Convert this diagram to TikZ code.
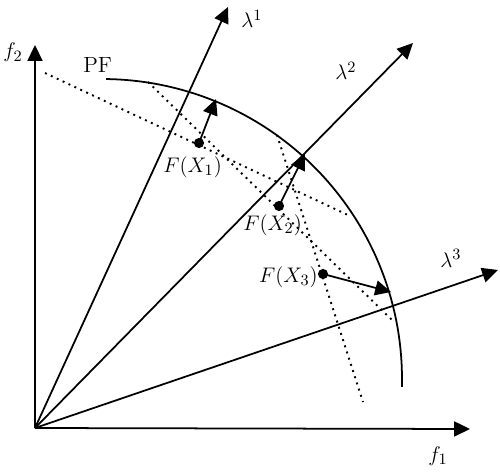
\documentclass[tikz,border=0pt]{standalone}
\usetikzlibrary{arrows.meta}
\begin{document}
\begin{tikzpicture}[x=0.02cm,y=-0.02cm,
  solidln/.style={line width=1pt},
  arr/.style={line width=1pt,-{Triangle[length=9pt,width=8.5pt]}},
  dotln/.style={line width=1.1pt,dash pattern=on 1.1pt off 2.6pt},
  pt/.style={circle,fill=black,inner sep=0pt,minimum size=5.8pt},
  lab/.style={inner sep=0pt,font=\fontsize{12.5}{15}\selectfont}]
\useasboundingbox (0,0) rectangle (500,473);
% coordinates
\coordinate (O) at (35,428);
\coordinate (F1tip) at (470,429);
\coordinate (F2tip) at (35,45);
\coordinate (L1tip) at (228,7);
\coordinate (L2tip) at (413,43);
\coordinate (L3tip) at (498,270);
% Pareto front
\draw[solidln] plot[domain=-89.2:1.5,samples=80] ({102+300*cos(\x)},{379+300*sin(\x)});
% dotted contour lines
\coordinate (a1) at (45,73);   \coordinate (a2) at (350,216);
\coordinate (b1) at (148,82);  \coordinate (b2) at (392,320);
\coordinate (c1) at (277,135); \coordinate (c2) at (363,402);
\draw[dotln] (a1) -- (a2);
\draw[dotln] (b1) -- (b2);
\draw[dotln] (c1) -- (c2);
% axes and weight vectors
\draw[arr] (O) -- (F1tip);
\draw[arr] (O) -- (F2tip);
\draw[arr] (O) -- (L1tip);
\draw[arr] (O) -- (L2tip);
\draw[arr] (O) -- (L3tip);
% points
\node[pt] (X1) at (199,143) {};
\node[pt] (X2) at (279,206) {};
\node[pt] (X3) at (323,274) {};
\coordinate (T1) at (216,99);
\coordinate (T2) at (305,154);
\coordinate (T3) at (391,292);
\draw[arr] (X1.center) -- (T1);
\draw[arr] (X2.center) -- (T2);
\draw[arr] (X3.center) -- (T3);
% labels
\node[lab,anchor=base west] (lf2) at (3,58) {$f_2$};
\node[lab,anchor=base west] (lf1) at (428,461) {$f_1$};
\node[lab,anchor=base west] (lpf) at (83,72) {PF};
\node[lab,anchor=base west] (ll1) at (241,28) {$\lambda^1$};
\node[lab,anchor=base west] (ll2) at (335,80) {$\lambda^2$};
\node[lab,anchor=base west] (ll3) at (440,267) {$\lambda^3$};
\node[lab,anchor=base west] (lx1) at (163,172) {$F(X_1)$};
\node[lab,anchor=base west] (lx2) at (243,230) {$F(X_2)$};
\node[lab,anchor=base east] (lx3) at (318,282) {$F(X_3)$};
\end{tikzpicture}
\end{document}
